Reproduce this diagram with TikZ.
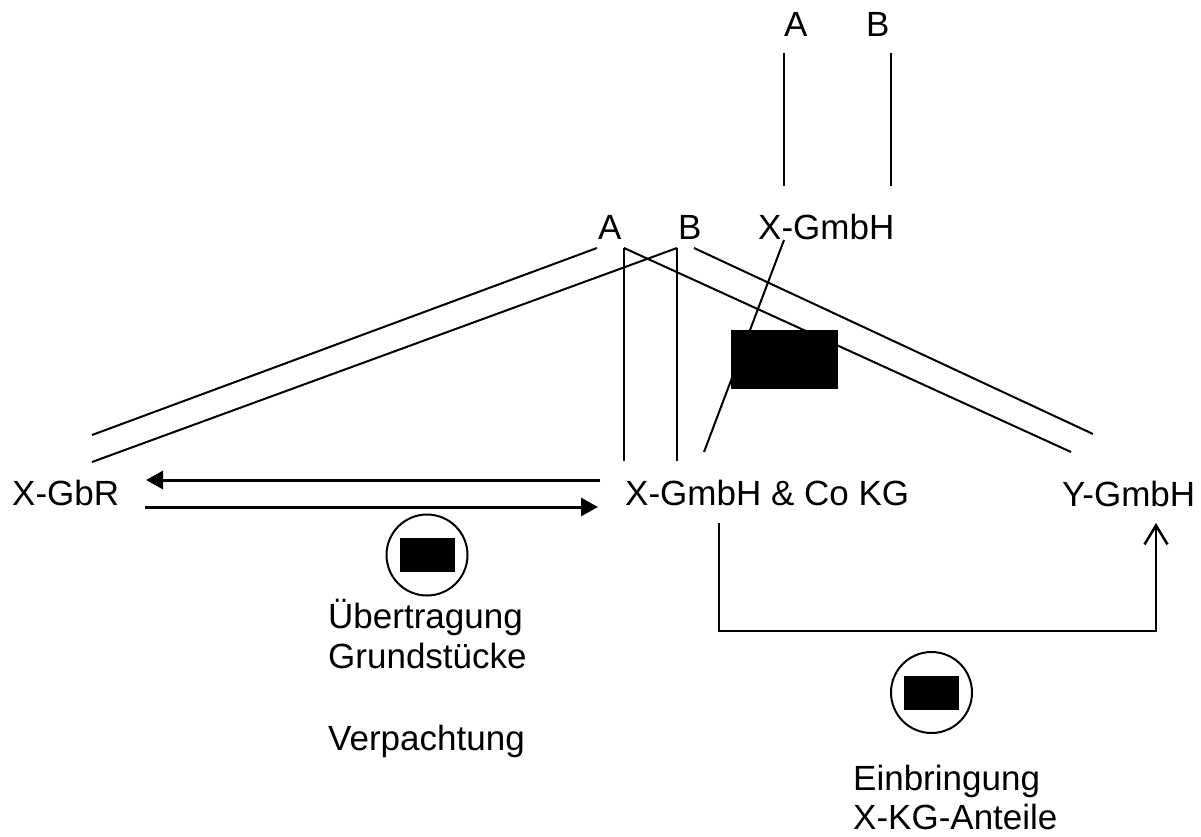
\documentclass[tikz,border=0pt]{standalone}
\usepackage{fontspec}
\setmainfont{Liberation Sans}
\usetikzlibrary{arrows.meta}
\begin{document}
\begin{tikzpicture}[x=1pt,y=-1pt,
  lbl/.style={anchor=base west,inner sep=0pt,font=\fontsize{35}{40}\selectfont},
  tie/.style={line width=2pt},
  flow/.style={line width=3pt,-{Triangle[length=17pt,width=18pt]}},
  contrib/.style={line width=2.5pt,-{Straight Barb[length=19pt,width=23pt,line width=2.5pt]}},
  seal/.style={draw,circle,line width=2pt,minimum size=81pt,inner sep=0pt},
  blot/.style={fill=black,draw=none,inner sep=0pt}]
\useasboundingbox (0,0) rectangle (1201,836);

% labels
\node[lbl] (topA) at (784,36) {A};
\node[lbl] (topB) at (866,36) {B};
\node[lbl] (midA) at (598,239) {A};
\node[lbl] (midB) at (678,239) {B};
\node[lbl] (xgmbh) at (758,239) {X-GmbH};
\node[lbl] (gbr) at (12,505) {X-GbR};
\node[lbl] (kg) at (625,505) {X-GmbH \& Co KG};
\node[lbl] (ygmbh) at (1062,506) {Y-GmbH};
\node[lbl] (uebertr) at (328,628) {Übertragung};
\node[lbl] (grund) at (328,668) {Grundstücke};
\node[lbl] (verp) at (328,750) {Verpachtung};
\node[lbl] (einbr) at (853,790) {Einbringung};
\node[lbl] (anteile) at (853,829) {X-KG-Anteile};

% connector end points
\coordinate (tA1) at (784,53);  \coordinate (tA2) at (784,186);
\coordinate (tB1) at (891,53);  \coordinate (tB2) at (891,186);
\coordinate (aL) at (597,248);  \coordinate (gbrU) at (92,435);
\coordinate (bL) at (677,248);  \coordinate (gbrL) at (92,462);
\coordinate (aV) at (624,248);  \coordinate (kgA) at (624,461);
\coordinate (kgB) at (677,461);
\coordinate (bR) at (694,248);  \coordinate (yU) at (1093,434);
\coordinate (yL) at (1071,452);
\coordinate (xg) at (784,240);  \coordinate (kgX) at (704,452);
\coordinate (ar1s) at (600,480); \coordinate (ar1e) at (146,480);
\coordinate (ar2s) at (145,507); \coordinate (ar2e) at (598,507);
\coordinate (brS) at (719,523);  \coordinate (brE) at (1156,523);
\coordinate (brY) at (631,631);

% shareholder lines
\draw[tie] (tA1) -- (tA2);
\draw[tie] (tB1) -- (tB2);
\draw[tie] (aL) -- (gbrU);
\draw[tie] (bL) -- (gbrL);
\draw[tie] (aV) -- (kgA);
\draw[tie] (bL) -- (kgB);
\draw[tie] (aV) -- (yL);
\draw[tie] (bR) -- (yU);
\draw[tie] (xg) -- (kgX);

% flows
\draw[flow] (ar1s) -- (ar1e);
\draw[flow] (ar2s) -- (ar2e);
\draw[contrib] (brS) |- (brY -| brE) -- (brE);

% black boxes
\node[blot, minimum width=107pt, minimum height=59pt] (box) at (784.5,359.5) {};
\node[seal] (c1) at (427,555) {};
\node[blot, minimum width=55pt, minimum height=34pt] (r1) at (c1) {};
\node[seal] (c2) at (931.5,692.5) {};
\node[blot, minimum width=55pt, minimum height=34pt] (r2) at (c2) {};
\end{tikzpicture}
\end{document}
